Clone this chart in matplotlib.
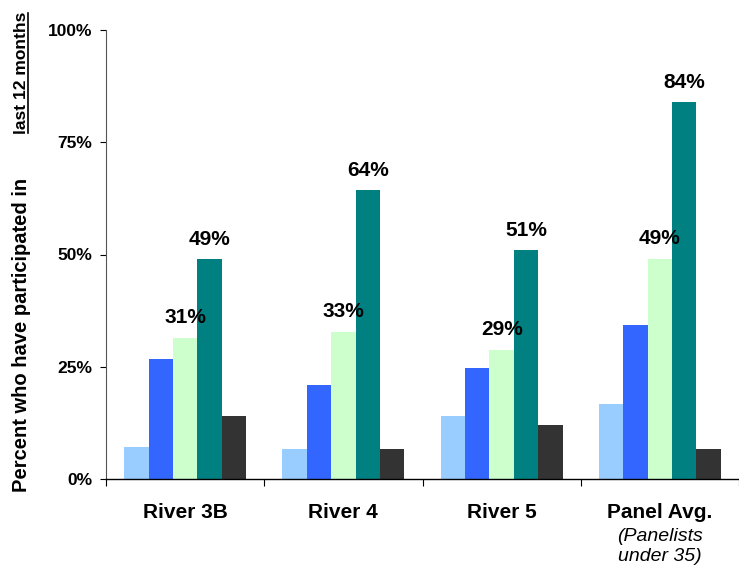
import matplotlib
matplotlib.use('Agg')
import matplotlib.pyplot as plt
from matplotlib.lines import Line2D
import numpy as np

plt.rcParams['font.family'] = ['Liberation Sans', 'DejaVu Sans']

# values (percent)
sites = ['River 3B', 'River 4', 'River 5', 'Panel Avg.']
light_blue = [7.1, 6.7, 14.1, 16.7]
blue = [26.8, 21.0, 24.8, 34.2]
light_green = [31.5, 32.8, 28.8, 49.1]
teal = [48.9, 64.3, 51.0, 83.9]
dark = [14.1, 6.7, 12.1, 6.7]
green_labels = ['31%', '33%', '29%', '49%']
teal_labels = ['49%', '64%', '51%', '84%']
yticks = [0, 25, 50, 75, 100]

series = [light_blue, blue, light_green, teal, dark]
colors = ['#99CCFF', '#3366FF', '#CCFFCC', '#008080', '#333333']

W, H = 739, 567
fig = plt.figure(figsize=(W / 100, H / 100), dpi=100)
ax = fig.add_axes([106 / W, 1 - 479 / H, 633 / W, 449 / H])

x = np.arange(len(sites))
w = 0.154
for i, (vals, c) in enumerate(zip(series, colors)):
    ax.bar(x + (i - 2) * w, vals, w, color=c, linewidth=0)

# value labels on the light green and teal bars
for xi, v, t in zip(x + 0 * w, light_green, green_labels):
    ax.annotate(t, (xi, v), xytext=(0, 20), textcoords='offset pixels',
                ha='center', va='center', fontsize=15, fontweight='bold')
for xi, v, t in zip(x + 1 * w, teal, teal_labels):
    ax.annotate(t, (xi, v), xytext=(0, 20), textcoords='offset pixels',
                ha='center', va='center', fontsize=15, fontweight='bold')

ax.set_xlim(-0.5, len(sites) - 0.5)
ax.set_ylim(0, 100)
ax.set_yticks(yticks)
ax.set_yticklabels([f'{t}%' for t in yticks], fontsize=12.5, fontweight='bold')
ax.tick_params(axis='y', direction='out', length=4, width=0.8, pad=6)

ax.set_xticks(x)
ax.set_xticklabels(sites, fontsize=15, fontweight='bold')
ax.set_xticks(np.arange(-0.5, len(sites)), minor=True)
ax.tick_params(axis='x', which='major', length=0, pad=17)
ax.tick_params(axis='x', which='minor', direction='out', length=5, width=0.8)

for s in ['top', 'right']:
    ax.spines[s].set_visible(False)
ax.spines['left'].set_color('#555555')
ax.spines['left'].set_linewidth(0.8)
ax.spines['bottom'].set_linewidth(1.0)

ax.annotate('(Panelists\nunder 35)', (3, 0), xycoords=('data', 'axes fraction'),
            xytext=(0, -49), textcoords='offset pixels', ha='center', va='top',
            fontsize=14, fontstyle='italic', linespacing=1.25)

# y axis title, second part underlined
t1 = fig.text(22 / W, 1 - 492 / H, 'Percent who have participated in',
              rotation=90, ha='center', va='bottom', fontsize=14.5, fontweight='bold')
t2 = fig.text(22 / W, 1 - 12 / H, 'last 12 months',
              rotation=90, ha='center', va='top', fontsize=12.5, fontweight='bold')
fig.canvas.draw()
bb = t2.get_window_extent()
fig.add_artist(Line2D([bb.x1 - 1.5, bb.x1 - 1.5], [bb.y0 + 1, bb.y1 - 1],
                      transform=None, color='black', linewidth=1.2))

fig.savefig('out.png', dpi=100)
